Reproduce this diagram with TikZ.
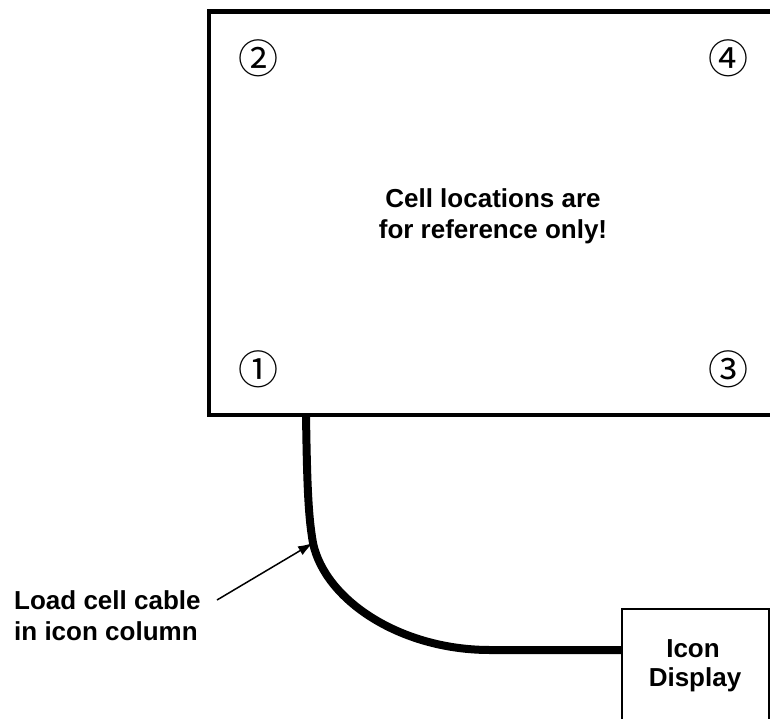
\documentclass[tikz,border=0pt]{standalone}
\usepackage{fontspec}
\setmainfont{Liberation Sans}
\newfontfamily\cjk{Noto Sans CJK JP}
\usetikzlibrary{arrows.meta}
\begin{document}
\begin{tikzpicture}[x=1pt,y=-1pt,
  lbl/.style={font=\bfseries\fontsize{26}{30}\selectfont, align=center, inner sep=0pt},
  num/.style={font=\cjk\fontsize{40}{40}\selectfont, inner sep=0pt},
  cable/.style={line width=8pt},
  pointer/.style={line width=1.5pt, -{Latex[length=15pt,width=10pt]}}]
\useasboundingbox (0,0) rectangle (770,719);
\clip (0,0) rectangle (770,719);
% main plate (extends beyond right edge)
\draw[line width=4.5pt] (790,11.5) -- (209,11.5) -- (209,415) -- (790,415);
\coordinate (plateL) at (306,415);
\node[num] (n2) at (258,58) {②};
\node[num] (n4) at (728,58) {④};
\node[num] (n1) at (258,369) {①};
\node[num] (n3) at (728,369) {③};
\node[lbl, anchor=base] (note1) at (493,208) {Cell locations are};
\node[lbl, anchor=base] (note2) at (493,238) {for reference only!};
% display box
\node[draw, line width=1.5pt, minimum width=147pt, minimum height=130pt, anchor=north west, inner sep=0pt] (disp) at (621,608) {};
\node[lbl, anchor=base] (disp1) at (693,657) {Icon};
\node[lbl, anchor=base] (disp2) at (695,686) {Display};
% cable
\coordinate (bend) at (313,543);
\draw[cable] (plateL) .. controls (307,480) and (308,515) .. (bend)
  .. controls (325,600) and (400,650) .. (490,650) -- (disp.west |- 0,650);
% label
\node[lbl, anchor=base west] (cable1) at (14,609) {Load cell cable};
\node[lbl, anchor=base west] (cable2) at (14,640) {in icon column};
\coordinate (tail) at (217,600);
\draw[pointer] (tail) -- (bend);
\end{tikzpicture}
\end{document}
